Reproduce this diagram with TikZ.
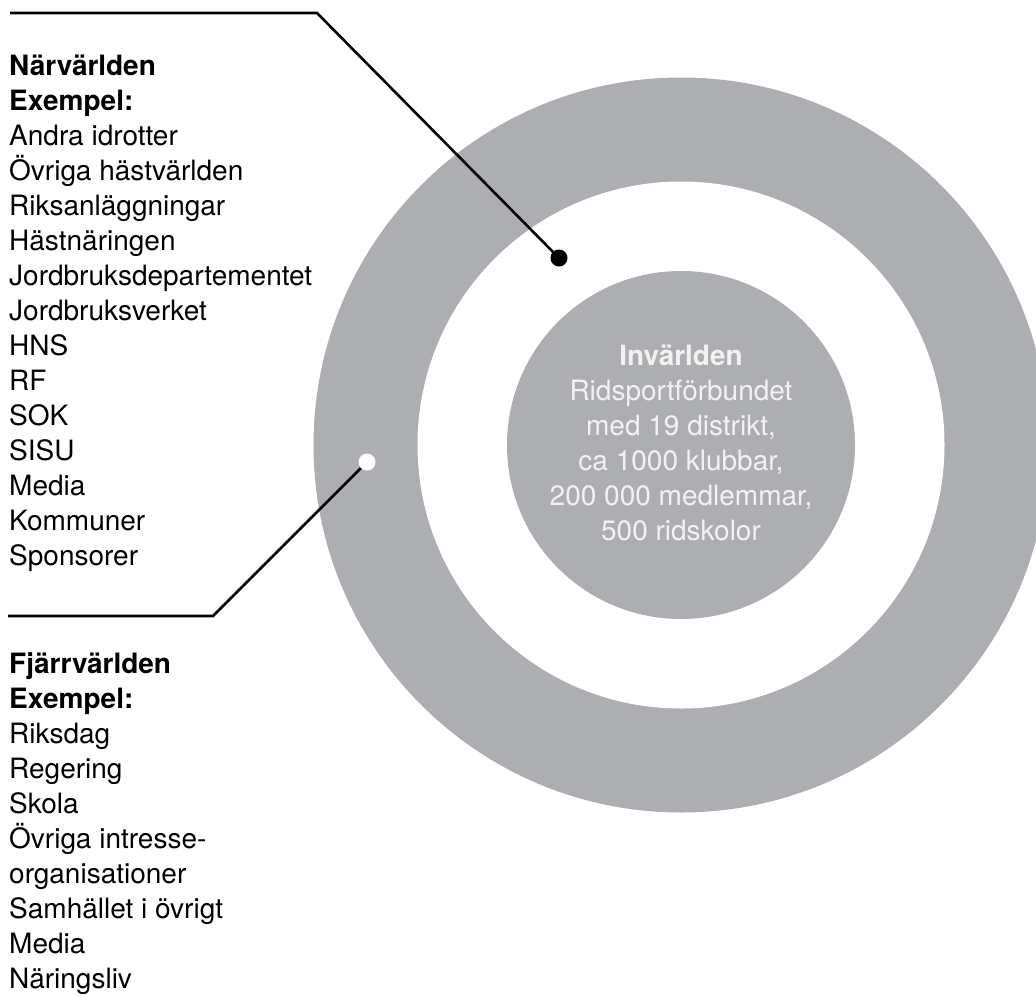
\documentclass[tikz,border=0pt]{standalone}
\usepackage{fontspec}
\setmainfont{TeX Gyre Heros}
\definecolor{ringgray}{RGB}{173,174,177}
\definecolor{softwhite}{RGB}{242,242,242}
\begin{document}
\begin{tikzpicture}[x=1pt,y=-1pt,
  listtext/.style={anchor=base west, inner sep=0pt, align=left, font=\fontsize{28}{35}\selectfont},
  centertext/.style={anchor=base, inner sep=0pt, align=center, text=softwhite, font=\fontsize{28}{35}\selectfont},
  leader/.style={line width=2.6pt, line join=miter},
  dotmark/.style={circle, inner sep=0pt, minimum size=17pt}]
\useasboundingbox (0,0) rectangle (1036,996);
\begin{scope}
\clip (0,0) rectangle (1036,996);
\fill[ringgray] (681,445) circle (367.5);
\fill[white] (681,445) circle (263.5);
\fill[ringgray] (681,445) circle (174);
\end{scope}
\node[centertext] (inner) at (681,540) {\textbf{Invärlden}\\Ridsportförbundet\\med 19 distrikt,\\ca 1000 klubbar,\\200 000 medlemmar,\\500 ridskolor};
\node[listtext] (near) at (9,565) {\textbf{Närvärlden}\\\textbf{Exempel:}\\Andra idrotter\\Övriga hästvärlden\\Riksanläggningar\\Hästnäringen\\Jordbruksdepartementet\\Jordbruksverket\\HNS\\RF\\SOK\\SISU\\Media\\Kommuner\\Sponsorer};
\node[listtext] (far) at (9,988) {\textbf{Fjärrvärlden}\\\textbf{Exempel:}\\Riksdag\\Regering\\Skola\\Övriga intresse-\\organisationer\\Samhället i övrigt\\Media\\Näringsliv};
\node[dotmark, fill=black] (bdot) at (559,258) {};
\node[dotmark, fill=white] (wdot) at (367,462) {};
\coordinate (t0) at (10,13);
\coordinate (t1) at (317,13);
\coordinate (b0) at (8,616);
\coordinate (b1) at (213,616);
\draw[leader] (t0) -- (t1) -- (bdot.center);
\draw[leader] (b0) -- (b1) -- (wdot);
\end{tikzpicture}
\end{document}
